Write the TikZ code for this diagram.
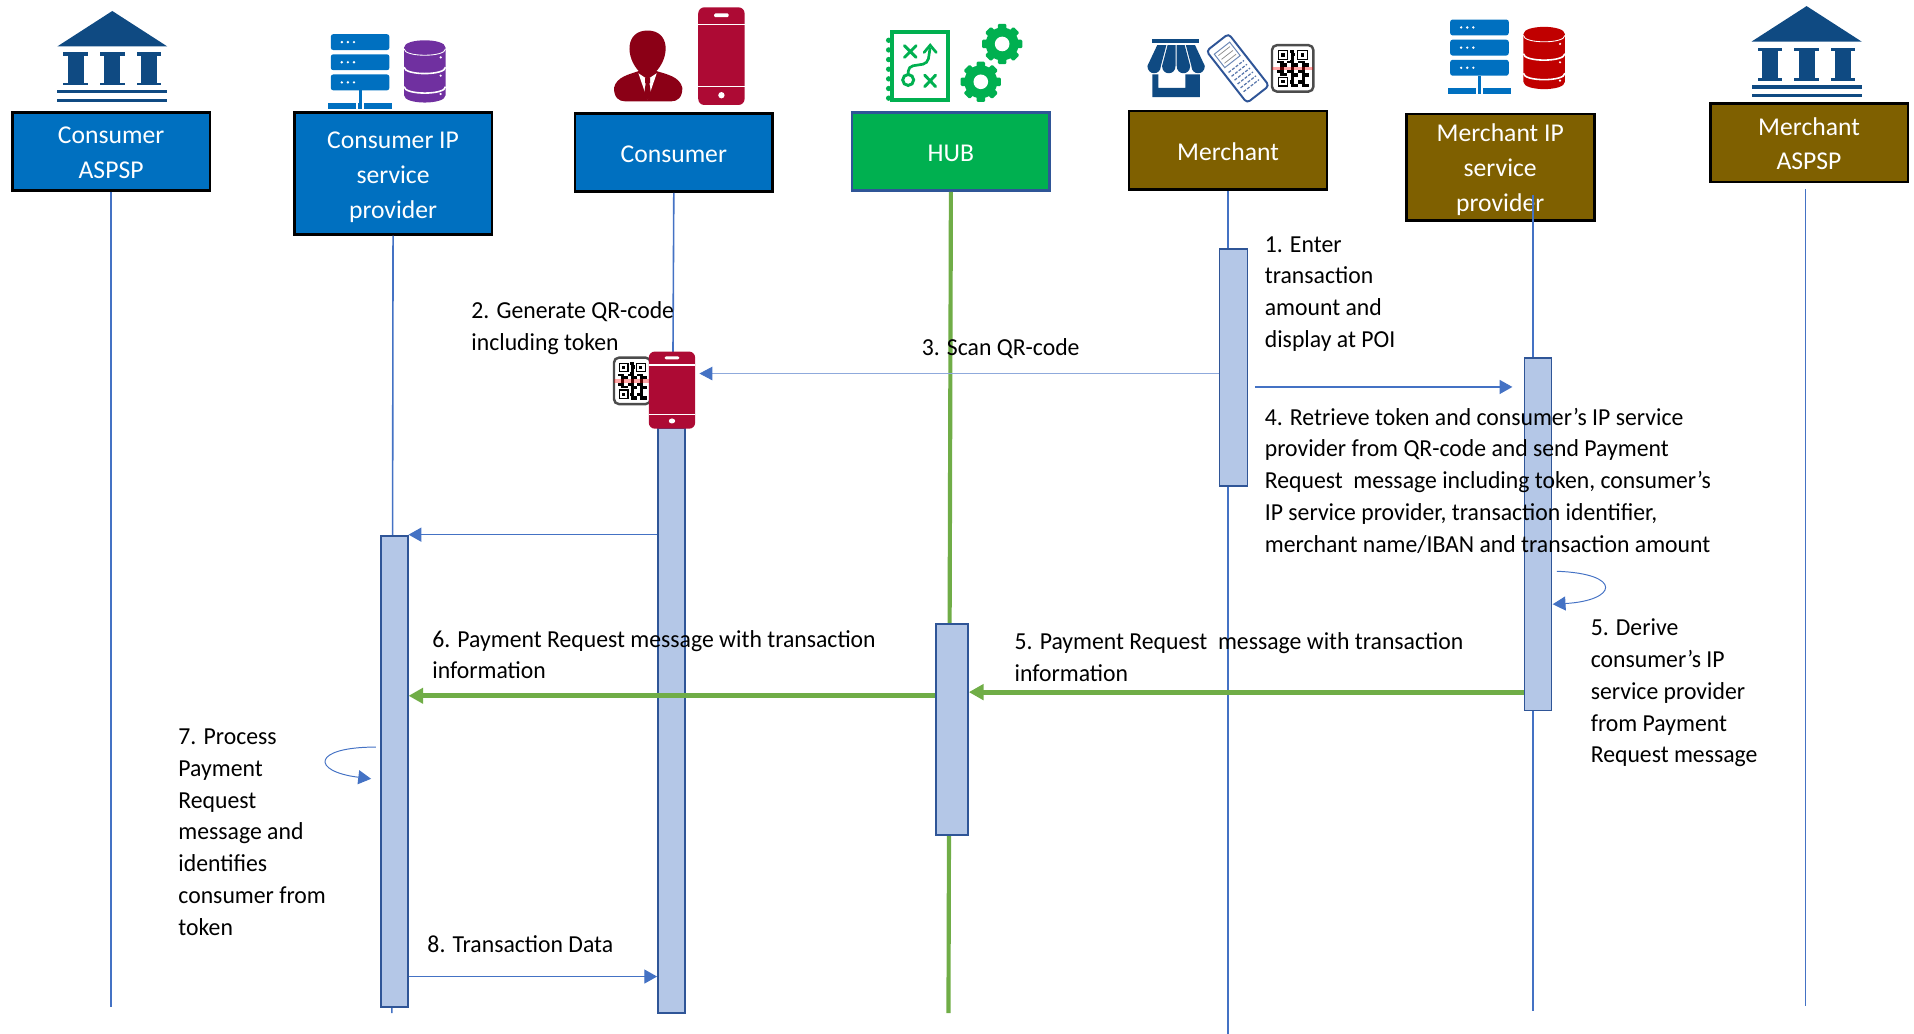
\documentclass[tikz,border=0pt]{standalone}
\usepackage{fontspec}
\setmainfont{Carlito}
\newfontfamily\notefont[FakeStretch=0.971]{Carlito}
\usetikzlibrary{arrows.meta}
\definecolor{bankblue}{HTML}{0F4A82}
\definecolor{laneblue}{HTML}{0070C0}
\definecolor{lanegreen}{HTML}{00B050}
\definecolor{lanebrown}{HTML}{7F6000}
\definecolor{lifeblue}{HTML}{4472C4}
\definecolor{hubgreen}{HTML}{70AD47}
\definecolor{barfill}{HTML}{B4C7E7}
\definecolor{barline}{HTML}{2F5597}
\definecolor{phonered}{HTML}{AD0A34}
\definecolor{personred}{HTML}{8B0016}
\definecolor{dbviolet}{HTML}{7030A0}
\definecolor{dbred}{HTML}{C00000}
\newcommand{\pushdown}[1]{\rule{0pt}{#1pt}}
\tikzset{
  lanebox/.style={draw=black,line width=2.2pt,text=white,align=center,inner sep=0pt,
    font=\fontsize{21}{28.5}\selectfont},
  actbar/.style={draw=barline,fill=barfill,line width=1.4pt,minimum width=22pt,inner sep=0pt},
  lifeline/.style={draw=lifeblue,line width=1.3pt},
  hubline/.style={draw=hubgreen,line width=3.4pt},
  msg/.style={draw=lifeblue,line width=1.1pt,-{Triangle[length=10.5pt,width=11.5pt,color=lifeblue]}},
  loopmsg/.style={draw=lifeblue,line width=.8pt,-{Triangle[length=10.5pt,width=11.5pt,color=lifeblue]}},
  thinmsg/.style={draw=lifeblue!60,line width=.7pt,-{Triangle[length=10.5pt,width=11pt,color=lifeblue]}},
  bigmsg/.style={draw=hubgreen,line width=4.2pt,-{Triangle[length=12pt,width=12.5pt]}},
  note/.style={anchor=north west,align=left,inner sep=0pt,text=black,
    font=\notefont\fontsize{20}{26}\selectfont},
  bank/.pic={
    \fill[bankblue] (0,0) -- (45,29) -- (-45,29) -- cycle;
    \foreach \c in {-30,0,30}{
      \fill[bankblue] (\c-6.5,36) rectangle (\c+6.5,59);
      \fill[bankblue] (\c-10,34) rectangle (\c+10,36.5);
      \fill[bankblue] (\c-10,59) rectangle (\c+10,61);
    }
    \fill[bankblue] (-45,65) rectangle (45,67.5);
    \fill[bankblue] (-45,72) rectangle (45,74.5);
  },
  rack/.pic={
    \foreach \r in {0,16.5,33}{
      \fill[laneblue,rounded corners=2pt] (-24,\r) rectangle (24,\r+13);
      \foreach \d in {-15,-10,-5} \fill[white] (\d,\r+6.5) circle (1.1pt);
    }
    \fill[laneblue] (-1.2,46) rectangle (1.2,56);
    \fill[laneblue] (-26,56) rectangle (-3,61);
    \fill[laneblue] (-1.5,56) rectangle (1.5,61);
    \fill[laneblue] (3,56) rectangle (26,61);
  },
  dbstack/.pic={
    \fill[#1] (-17,6) .. controls (-17,-2) and (17,-2) .. (17,6) -- (17,45)
      .. controls (17,53) and (-17,53) .. (-17,45) -- cycle;
    \draw[white,line width=.7pt] (-17,7) .. controls (-17,14) and (17,14) .. (17,7);
    \foreach \r in {22,38}
      \draw[white,line width=1.3pt] (-17,\r) .. controls (-17,\r+7) and (17,\r+7) .. (17,\r);
    \foreach \r in {14,29,44} \fill[white] (13,\r) circle (1pt);
  },
  handset/.pic={
    \fill[phonered,rounded corners=5pt] (-19,0) rectangle (19,80);
    \draw[white,line width=1.2pt] (-19,14) -- (19,14) (-19,65) -- (19,65);
    \fill[white,rounded corners=1pt] (-6,5) rectangle (6,8);
    \fill[white] (0,72) circle (2.6pt);
  },
  qrcode/.pic={
    \fill[white,draw=black!70,line width=2pt,rounded corners=4pt] (-15,-19) rectangle (15,19);
    \foreach \i in {-4,...,4}\foreach \j in {-5,...,5}{
      \pgfmathtruncatemacro\q{mod(abs(\i*\i+3*\j+\i*\j),3)}
      \ifnum\q=0 \fill[black] (\i*2.6-1.3,\j*2.8-1.4) rectangle +(2.6,2.8);\fi
    }
    \foreach \p/\s in {-7/-11,7/-11,-7/11}{
      \fill[white] (\p-5,\s-5) rectangle (\p+5,\s+5);
      \draw[black,line width=1pt] (\p-3.5,\s-3.5) rectangle (\p+3.5,\s+3.5);
      \fill[black] (\p-1.3,\s-1.3) rectangle (\p+1.3,\s+1.3);
    }
    \fill[red,opacity=.35] (-15,-1.5) rectangle (15,1.5);
  },
  gearwheel/.pic={
    \foreach \a in {0,45,90,135}
      \fill[lanegreen,rotate=\a,rounded corners=1pt] (-3.5,-16.5) rectangle (3.5,16.5);
    \fill[lanegreen] (0,0) circle (13.5pt);
    \fill[white] (0,0) circle (6pt);
  },
}
\begin{document}
\begin{tikzpicture}[x=1pt,y=-1pt,line cap=butt,line join=miter]
\useasboundingbox (0,0) rectangle (1568,847);
% lane heads
\node[lanebox,fill=laneblue,minimum width=162pt,minimum height=64pt] (casp) at (91,124) {\pushdown{16}Consumer\\ASPSP};
\node[lanebox,fill=laneblue,minimum width=162pt,minimum height=100pt] (cip) at (322,142) {\pushdown{20}Consumer IP\\service\\provider};
\node[lanebox,fill=laneblue,minimum width=162pt,minimum height=64pt] (cons) at (552,125) {\pushdown{16}Consumer};
\node[lanebox,fill=lanegreen,draw=barline,minimum width=162pt,minimum height=64pt] (hub) at (779,124) {\pushdown{16}HUB};
\node[lanebox,fill=lanebrown,minimum width=162pt,minimum height=64pt] (merch) at (1006,123) {\pushdown{17}Merchant};
\node[lanebox,fill=lanebrown,minimum width=154pt,minimum height=87pt] (mip) at (1229,137) {\pushdown{19}Merchant IP\\service\\provider};
\node[lanebox,fill=lanebrown,minimum width=162pt,minimum height=64pt] (masp) at (1482,117) {\pushdown{16}Merchant\\ASPSP};
% ends of the lines
\coordinate (caspend) at (91,825);
\coordinate (cipend) at (321,830);
\coordinate (consend) at (551,351);
\coordinate (hubend) at (777,830);
\coordinate (merchend) at (1006,847);
\coordinate (mipstart) at (1256,160);
\coordinate (mipend) at (1256,828);
\coordinate (maspstart) at (1479,155);
\coordinate (maspend) at (1479,824);
\draw[lifeline] (casp.south) -- (caspend);
\draw[lifeline] (cip.south) -- (cipend);
\draw[lifeline] (cons.south) -- (consend);
\draw[hubline] (hub.south) -- (hubend);
\draw[lifeline] (merch.south) -- (merchend);
\draw[lifeline] (mipstart) -- (mipend);
\draw[lifeline] (maspstart) -- (maspend);
% bars
\node[actbar,minimum height=479pt] (consbar) at (550,590.5) {};
\node[actbar,minimum height=386pt] (cipbar) at (323,632) {};
\node[actbar,minimum width=26pt,minimum height=173pt] (hubbar) at (780,597.5) {};
\node[actbar,minimum width=23pt,minimum height=194pt] (merbar) at (1010.5,301) {};
\node[actbar,minimum height=289pt] (mipbar) at (1260,437.5) {};
% icons
\pic at (92,9) {bank};
\pic at (1480,5) {bank};
\pic at (295,28) {rack};
\pic at (348,33) {dbstack=dbviolet};
\pic at (1212,16) {rack};
\pic at (1265,22) {dbstack=dbred};
% person and phone
\fill[personred] (503,72) .. controls (505,63) and (515,61) .. (524,58) -- (537,58)
  .. controls (547,61) and (557,63) .. (559,72) .. controls (559,80) and (555,83) .. (550,83)
  -- (512,83) .. controls (507,83) and (503,80) .. (503,72) -- cycle;
\fill[personred] (530.5,25) .. controls (512,25) and (512,47) .. (524,59) -- (537,59)
  .. controls (549,47) and (549,25) .. (530.5,25) -- cycle;
\fill[white] (523,60) -- (530.5,82) -- (538,60) -- (530.5,65) -- cycle;
\fill[personred] (528.5,64) rectangle (532.5,68) (529,68) -- (532,68) -- (533.5,78) -- (530.5,82) -- (527.5,78) -- cycle;
\pic at (591,6) {handset};
\pic at (518,312) {qrcode};
\pic[yscale=.79] at (550.5,288) {handset};
\coordinate (scanend) at (573,306);
% hub icon
\foreach \k in {0,...,6} \fill[lanegreen] (728,33+\k*7.9) circle (2.2pt);
\draw[lanegreen,fill=white,line width=3.2pt] (730.5,26.5) rectangle (776.5,82);
\draw[lanegreen,line width=2.4pt,line cap=round] (741,37.5) -- (750.5,47) (750.5,37.5) -- (741,47)
  (757.5,61.5) -- (766.5,71) (766.5,61.5) -- (757.5,71);
\draw[lanegreen,line width=2.4pt] (744,65.5) circle (4.5pt);
\draw[lanegreen,line width=2.2pt,rounded corners=4pt] (744,61) -- (744,54.5) -- (760,52) -- (762,39);
\draw[lanegreen,line width=2.2pt,line cap=round] (757,43) -- (762,37) -- (767,43);
\pic at (821,36) {gearwheel};
\pic at (803.5,67) {gearwheel};
% merchant icons
\fill[bankblue] (944,32) rectangle (982,35.5);
\foreach \ta/\tb/\ba/\bb in {948/955.5/940/951,956.5/963/952/963,964/970.5/964/975,971.5/979/976/987}
  \fill[bankblue] (\ta,37) -- (\tb,37) -- (\bb,54) .. controls (\bb,62) and (\ba,62) .. (\ba,54) -- cycle;
\fill[bankblue] (944,61) -- (949,61) -- (949,72) -- (971,72) -- (971,61) -- (983,61) -- (983,79.5) -- (944,79.5) -- cycle;
\begin{scope}[shift={(1014,56)},rotate=38]
\fill[white,draw=barline,line width=1.6pt,rounded corners=3pt] (-11.5,-27) rectangle (11.5,27);
\draw[barline!70,line width=.8pt] (-8,-21) rectangle (8,-7);
\foreach \k in {-18,-14,-10} \draw[black!45,line width=.6pt] (-6,\k) -- (6,\k);
\foreach \k in {-2,2,...,18} \draw[barline!80,line width=1pt,dash pattern=on 2.5pt off 1.2pt] (-8,\k) -- (8,\k);
\end{scope}
\pic[xscale=1.13] at (1059,56) {qrcode};
% messages
\coordinate (retrievestart) at (1028,317);
\coordinate (retrieveend) at (1239,317);
\coordinate (deriveout) at (1275.5,468);
\coordinate (derivein) at (1272,495);
\coordinate (processout) at (308,612);
\coordinate (processin) at (304,638);
\draw[thinmsg] (merbar.west |- 0,306) -- (scanend);
\draw[msg] (retrievestart) -- (retrieveend);
\draw[msg] (consbar.west |- 0,438) -- (cipbar.east |- 0,438);
\draw[bigmsg] (mipbar.west |- 0,567) -- (hubbar.east |- 0,567);
\draw[bigmsg] (hubbar.west |- 0,570) -- (cipbar.east |- 0,570);
\draw[msg] (cipbar.east |- 0,800) -- (consbar.west |- 0,800);
\draw[loopmsg] (deriveout) .. controls (1330,470) and (1325,492) .. (derivein);
\draw[loopmsg] (processout) .. controls (255,612) and (255,632) .. (processin);
% texts
\node[note] at (1036,193.5) {1. Enter\\transaction\\amount and\\display at POI};
\node[note] at (386,247) {2. Generate QR-code\\including token};
\node[note] at (755,277) {3. Scan QR-code};
\node[note] at (1036,334) {4. Retrieve token and consumer’s IP service\\provider from QR-code and send Payment\\Request\ \ message including token, consumer’s\\IP service provider, transaction identifier,\\merchant name/IBAN and transaction amount};
\node[note] at (1303,507) {5. Derive\\consumer’s IP\\service provider\\from Payment\\Request message};
\node[note] at (831,518) {5. Payment Request\ \ message with transaction\\information};
\node[note] at (354,516) {6. Payment Request message with transaction\\information};
\node[note] at (146,597) {7. Process\\Payment\\Request\\message and\\identifies\\consumer from\\token};
\node[note] at (350,766) {8. Transaction Data};
\end{tikzpicture}
\end{document}
